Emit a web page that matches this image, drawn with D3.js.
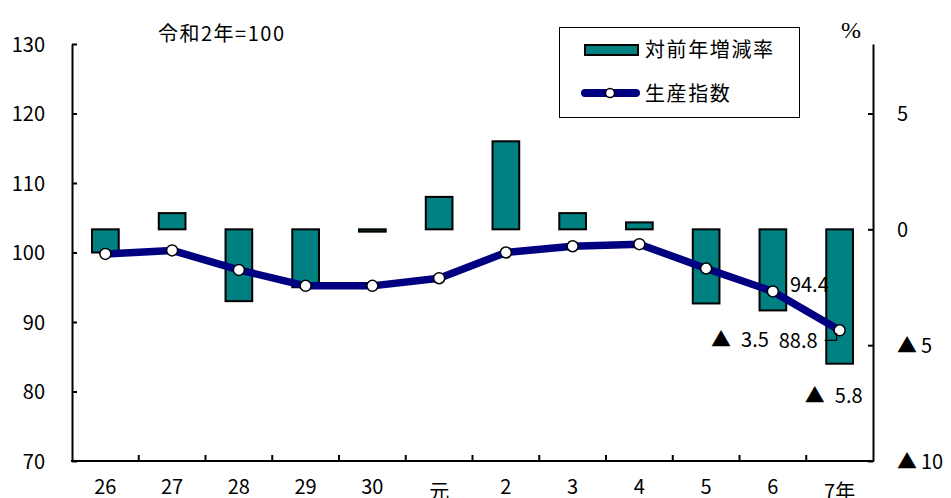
<!DOCTYPE html>
<html><head><meta charset="utf-8">
<script src="https://cdn.jsdelivr.net/npm/d3@7"></script>
<style>
html,body{margin:0;padding:0;background:#fff;}
text{font-family:"Noto Sans CJK JP","Noto Sans",sans-serif;fill:#000;}
</style></head>
<body>
<svg id="chart" width="951" height="498"></svg>
<script>
const categories = ["26","27","28","29","30","元","2","3","4","5","6","7年"];
const indexValues = [99.8,100.3,97.5,95.2,95.2,96.3,100.0,100.9,101.2,97.7,94.4,88.8];
const changeValues = [-1.0,0.7,-3.1,-2.5,-0.1,1.4,3.8,0.7,0.3,-3.2,-3.5,-5.8];
const leftTicks = [70,80,90,100,110,120,130];
const rightTicks = [-10,-5,0,5];
const rightTickLabels = ["▲\u200910","▲\u20095","0","5"];
const baseLabel = "令和2年=100";
const unitLabel = "%";
const seriesNames = ["対前年増減率","生産指数"];

const svg = d3.select("#chart");
const L = 72, R = 873, T = 44, B = 461;
const FS = 20;

const x = d3.scaleBand().domain(categories).range([L, R]).padding(0);
const yL = d3.scaleLinear().domain([70,130]).range([B, T]);
const yR = d3.scaleLinear().domain([-10,8]).range([B, T]);
const cx = c => x(c) + x.bandwidth()/2;
const barW = x.bandwidth()*0.4;

// bars
svg.append("g").selectAll("rect").data(categories).join("rect")
  .attr("x", c => cx(c) - barW/2)
  .attr("width", barW)
  .attr("y", (c,i) => Math.min(yR(0), yR(changeValues[i])))
  .attr("height", (c,i) => Math.abs(yR(changeValues[i]) - yR(0)))
  .attr("fill", "#008080").attr("stroke", "#000").attr("stroke-width", 2);

// line
const line = d3.line().x((d,i) => cx(categories[i])).y(d => yL(d));
svg.append("path").datum(indexValues).attr("d", line)
  .attr("fill","none").attr("stroke","#000080").attr("stroke-width",7.5)
  .attr("stroke-linejoin","round");
svg.append("g").selectAll("circle").data(indexValues).join("circle")
  .attr("cx",(d,i)=>cx(categories[i])).attr("cy",d=>yL(d)).attr("r",5.5)
  .attr("fill","#fff").attr("stroke","#000").attr("stroke-width",1.5);

// left axis
const gL = svg.append("g").attr("transform",`translate(${L},0)`)
  .call(d3.axisLeft(yL).tickValues(leftTicks).tickSizeInner(-5).tickSizeOuter(0).tickPadding(27));
// right axis
const gR = svg.append("g").attr("transform",`translate(${R},0)`)
  .call(d3.axisRight(yR).tickValues(rightTicks).tickSizeInner(-5).tickSizeOuter(0).tickPadding(24)
    .tickFormat(d=>rightTickLabels[rightTicks.indexOf(d)]));
[gL,gR].forEach(g=>{
  g.attr("font-family",null).attr("font-size",null);
  g.select(".domain").attr("stroke","#000").attr("stroke-width",2);
  g.selectAll(".tick line").attr("stroke","#000").attr("stroke-width",2);
  g.selectAll(".tick text").attr("font-size",FS).attr("dy","0.36em");
});

// bottom axis
svg.append("line").attr("x1",L-1).attr("x2",R+1).attr("y1",B).attr("y2",B)
  .attr("stroke","#000").attr("stroke-width",2);
svg.append("g").selectAll("line").data(categories.slice(1)).join("line")
  .attr("x1",c=>x(c)).attr("x2",c=>x(c)).attr("y1",B).attr("y2",B-6)
  .attr("stroke","#000").attr("stroke-width",2);
svg.append("g").selectAll("text").data(categories).join("text")
  .attr("x",c=>cx(c)).attr("y",c=>/^[0-9]+$/.test(c)?494:499)
  .attr("text-anchor","middle").attr("font-size",FS).text(c=>c);

// title & unit
svg.append("text").attr("x",158).attr("y",41).attr("font-size",FS)
  .attr("letter-spacing",1.5).text(baseLabel);
svg.append("text").attr("x",851).attr("y",38).attr("text-anchor","middle")
  .attr("font-size",24).style("font-family","'Liberation Serif','DejaVu Serif',serif").text(unitLabel);

// legend
const lg = svg.append("g");
lg.append("rect").attr("x",559.5).attr("y",27.5).attr("width",240).attr("height",90)
  .attr("fill","#fff").attr("stroke","#000").attr("stroke-width",1);
lg.append("rect").attr("x",585).attr("y",45).attr("width",53).attr("height",10)
  .attr("fill","#008080").attr("stroke","#000").attr("stroke-width",2);
lg.append("text").attr("x",645).attr("y",50).attr("dy","0.36em").attr("font-size",FS)
  .attr("letter-spacing",1.6).text(seriesNames[0]);
lg.append("line").attr("x1",585).attr("x2",636).attr("y1",93).attr("y2",93)
  .attr("stroke","#000080").attr("stroke-width",8).attr("stroke-linecap","round");
lg.append("circle").attr("cx",610).attr("cy",93).attr("r",4.5)
  .attr("fill","#fff").attr("stroke","#000").attr("stroke-width",1.5);
lg.append("text").attr("x",645).attr("y",94).attr("dy","0.36em").attr("font-size",FS)
  .attr("letter-spacing",1.6).text(seriesNames[1]);

// data labels
const fmtChange = v => (v<0?"▲\u2002":"") + Math.abs(v).toFixed(1);
const i6 = 10, i7 = 11;
svg.append("text").attr("x",cx(categories[i6])+17).attr("y",yL(indexValues[i6])+1)
  .attr("font-size",FS).text(indexValues[i6].toFixed(1));
svg.append("text").attr("x",cx(categories[i7])-22).attr("y",yL(indexValues[i7])+18)
  .attr("text-anchor","end").attr("font-size",FS).text(indexValues[i7].toFixed(1));
const px = cx(categories[i7]), py = yL(indexValues[i7]);
svg.append("path").attr("d",`M${px-15},${py+10}H${px-3}V${py+3}`)
  .attr("fill","none").attr("stroke","#000").attr("stroke-width",1.2);
svg.append("text").attr("x",cx(categories[i6])-4).attr("y",yR(changeValues[i6])+37)
  .attr("text-anchor","end").attr("font-size",FS).text(fmtChange(changeValues[i6]));
svg.append("text").attr("x",cx(categories[i7])+23).attr("y",yR(changeValues[i7])+39)
  .attr("text-anchor","end").attr("font-size",FS).text(fmtChange(changeValues[i7]));
</script>
</body></html>
